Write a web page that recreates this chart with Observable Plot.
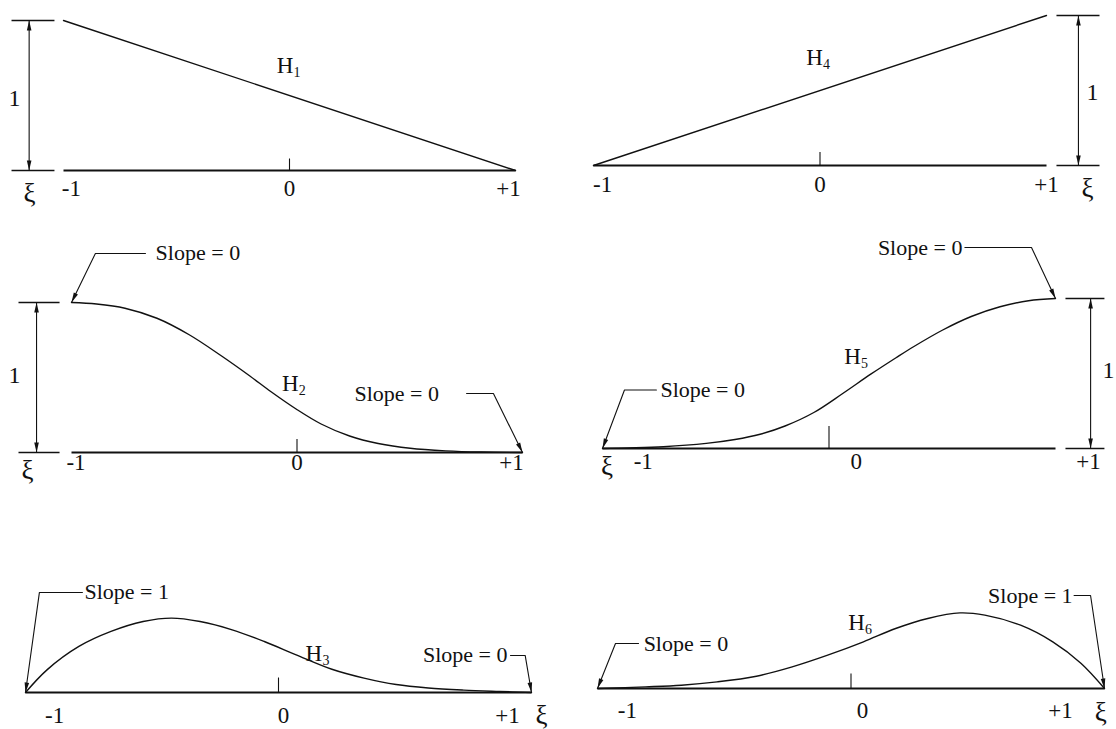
<!DOCTYPE html>
<html>
<head>
<meta charset="utf-8">
<script src="https://cdn.jsdelivr.net/npm/d3@7"></script>
<script src="https://cdn.jsdelivr.net/npm/@observablehq/plot@0.6"></script>
<style>
  html, body { margin: 0; padding: 0; background: #fff; }
  #figure { position: relative; width: 1116px; height: 729px; overflow: hidden; background: #fff; }
  #figure svg { position: absolute; overflow: visible; }
</style>
</head>
<body>
<div id="figure"></div>
<script>
// Hermite shape functions H1..H6 on the natural coordinate xi in [-1, +1]

// H1 and H4: linear functions
const xiLinear = [-1, 1];
const h1 = [1, 0];
const h4 = [0, 1];

// H2: falls from 1 to 0, zero slope at both ends
const xiH2 = [-1, -0.889, -0.763, -0.621, -0.478, -0.336, -0.209, -0.115, -0.004, 0.107, 0.233, 0.360, 0.502, 0.660, 0.818, 1];
const h2   = [1, 0.990, 0.962, 0.895, 0.785, 0.645, 0.510, 0.405, 0.290, 0.190, 0.110, 0.060, 0.028, 0.011, 0.003, 0];

// H5: rises from 0 to 1, zero slope at both ends
const xiH5 = [-1, -0.889, -0.731, -0.542, -0.415, -0.304, -0.194, -0.067, 0.059, 0.186, 0.296, 0.375, 0.502, 0.628, 0.755, 0.881, 1];
const h5   = [0, 0.004, 0.012, 0.034, 0.060, 0.095, 0.150, 0.240, 0.365, 0.497, 0.605, 0.680, 0.790, 0.880, 0.945, 0.985, 1];

// H3: slope 1 at xi = -1, slope 0 at xi = +1
const xiH3 = [-1, -0.915, -0.789, -0.662, -0.535, -0.423, -0.310, -0.183, -0.056, 0.070, 0.211, 0.338, 0.465, 0.592, 0.732, 0.873, 1];
const h3   = [0, 0.151, 0.307, 0.407, 0.473, 0.496, 0.473, 0.418, 0.340, 0.251, 0.155, 0.096, 0.053, 0.030, 0.016, 0.007, 0];

// H6: slope 0 at xi = -1, slope 1 at xi = +1
const xiH6 = [-1, -0.810, -0.669, -0.528, -0.373, -0.232, -0.092, 0.049, 0.176, 0.303, 0.430, 0.528, 0.669, 0.796, 0.908, 1];
const h6   = [0, 0.011, 0.022, 0.044, 0.082, 0.144, 0.222, 0.311, 0.400, 0.467, 0.504, 0.489, 0.422, 0.311, 0.167, 0];

// text
const tickLabels = ["-1", "0", "+1"];
const functionNames = ["1", "2", "3", "4", "5", "6"];
const slopeZero = "Slope = 0";
const slopeOne = "Slope = 1";
const unitLabel = "1";
const axisSymbol = "\u03BE";

const FONT = "'Liberation Serif', 'Times New Roman', Times, serif";
const INK = "#111";

// filled, slender arrowhead; falls back to Plot's built-in arrow
function headMarker(color, context) {
  const ns = "http://www.w3.org/2000/svg";
  const doc = context && context.document ? context.document : document;
  const m = doc.createElementNS(ns, "marker");
  m.setAttribute("viewBox", "-11 -3 12 6");
  m.setAttribute("markerWidth", 12);
  m.setAttribute("markerHeight", 6);
  m.setAttribute("markerUnits", "userSpaceOnUse");
  m.setAttribute("orient", "auto-start-reverse");
  m.setAttribute("refX", 0);
  m.setAttribute("refY", 0);
  const p = doc.createElementNS(ns, "path");
  p.setAttribute("d", "M0,0L-10,-2.3L-10,2.3Z");
  p.setAttribute("fill", color);
  p.setAttribute("stroke", "none");
  m.appendChild(p);
  return m;
}
let HEAD = headMarker;
try { Plot.link([], {x1: 0, y1: 0, x2: 0, y2: 0, markerEnd: headMarker}); } catch (e) { HEAD = "arrow"; }

const series = (xs, ys) => xs.map((x, i) => ({x, y: ys[i]}));

// one panel per shape function; frame gives the page placement of its plot area
const panels = [
  {
    frame: {left: 0, top: 0, width: 558, height: 215, x0: 63, x1: 515, base: 170},
    data: series(xiLinear, h1), name: functionNames[0], nameAt: [-0.02, 0.70],
    tickLen: 0.08, tickAt: [-0.965, 0, 0.969], tickY: -0.12,
    xiAt: [-1.15, -0.15],
    dim: {x: -1.152, ext: [-1.23, -1.04], labelAt: [-1.217, 0.48]},
    leaders: []
  },
  {
    frame: {left: 558, top: 0, width: 558, height: 215, x0: 593, x1: 1046, base: 165},
    data: series(xiLinear, h4), name: functionNames[3], nameAt: [-0.024, 0.72],
    tickLen: 0.09, tickAt: [-0.96, 0, 1.0], tickY: -0.13,
    xiAt: [1.181, -0.155],
    dim: {x: 1.141, ext: [1.044, 1.234], labelAt: [1.203, 0.487]},
    leaders: []
  },
  {
    frame: {left: 0, top: 215, width: 558, height: 275, x0: 71, x1: 522, base: 452},
    data: series(xiH2, h2), name: functionNames[1], nameAt: [-0.03, 0.46],
    tickLen: 0.09, tickAt: [-0.98, 0, 0.951], tickY: -0.07,
    xiAt: [-1.195, -0.12],
    dim: {x: -1.155, ext: [-1.235, -1.053], labelAt: [-1.253, 0.513]},
    leaders: [
      {text: slopeZero, at: [-0.627, 1.327], anchor: "start", path: [[-0.672, 1.327], [-0.894, 1.327], [-1, 1]]},
      {text: slopeZero, at: [0.255, 0.393], anchor: "start", path: [[0.752, 0.393], [0.871, 0.393], [1, 0]]}
    ]
  },
  {
    frame: {left: 558, top: 215, width: 558, height: 275, x0: 602, x1: 1055, base: 448},
    data: series(xiH5, h5), name: functionNames[4], nameAt: [0.104, 0.613],
    tickLen: 0.15, tickAt: [-0.82, 0.12, 1.146], tickY: -0.09,
    xiAt: [-0.98, -0.12],
    dim: {x: 1.155, ext: [1.044, 1.216], labelAt: [1.234, 0.52]},
    leaders: [
      {text: slopeZero, at: [0.589, 1.34], anchor: "end", path: [[0.60, 1.34], [0.894, 1.34], [1, 1]]},
      {text: slopeZero, at: [-0.744, 0.39], anchor: "start", path: [[-0.762, 0.39], [-0.903, 0.39], [-1, 0]]}
    ]
  },
  {
    frame: {left: 0, top: 490, width: 558, height: 239, x0: 25, x1: 531, base: 692},
    data: series(xiH3, h3), name: functionNames[2], nameAt: [0.14, 0.26],
    tickLen: 0.1, tickAt: [-0.885, 0.02, 0.905], tickY: -0.155,
    xiAt: [1.04, -0.15],
    dim: null,
    leaders: [
      {text: slopeOne, at: [-0.767, 0.667], anchor: "start", path: [[-0.775, 0.667], [-0.945, 0.667], [-1, 0]]},
      {text: slopeZero, at: [0.905, 0.247], anchor: "end", path: [[0.917, 0.247], [0.975, 0.247], [1, 0]]}
    ]
  },
  {
    frame: {left: 558, top: 490, width: 558, height: 239, x0: 597, x1: 1104, base: 688},
    data: series(xiH6, h6), name: functionNames[5], nameAt: [0.022, 0.44],
    tickLen: 0.1, tickAt: [-0.882, 0.045, 0.826], tickY: -0.147,
    xiAt: [0.985, -0.16],
    dim: null,
    leaders: [
      {text: slopeZero, at: [-0.818, 0.30], anchor: "start", path: [[-0.838, 0.30], [-0.929, 0.30], [-1, 0]]},
      {text: slopeOne, at: [0.874, 0.62], anchor: "end", path: [[0.88, 0.62], [0.945, 0.62], [1, 0]]}
    ]
  }
];

const UNIT = 150; // pixels per unit of H

function drawPanel(p) {
  const f = p.frame;
  const marks = [];

  // axis line and the tick at xi = 0
  marks.push(Plot.link([{x1: -1, y1: 0, x2: 1, y2: 0}], {x1: "x1", y1: "y1", x2: "x2", y2: "y2", stroke: INK, strokeWidth: 1.9}));
  marks.push(Plot.link([{x1: 0, y1: 0, x2: 0, y2: p.tickLen}], {x1: "x1", y1: "y1", x2: "x2", y2: "y2", stroke: INK, strokeWidth: 1.1}));

  // unit-height dimension
  if (p.dim) {
    const d = p.dim;
    marks.push(Plot.link([0, 1].map(v => ({x1: d.ext[0], x2: d.ext[1], y: v})), {x1: "x1", x2: "x2", y1: "y", y2: "y", stroke: INK, strokeWidth: 1.4}));
    marks.push(Plot.link([{x: d.x, y1: 0, y2: 1}], {x1: "x", x2: "x", y1: "y1", y2: "y2", stroke: INK, strokeWidth: 1.1, markerStart: HEAD, markerEnd: HEAD}));
    marks.push(Plot.text([unitLabel], {x: d.labelAt[0], y: d.labelAt[1], text: d => d, fontSize: 24, fontFamily: FONT, fill: INK, textAnchor: "middle", lineAnchor: "middle"}));
  }

  // the shape function
  marks.push(Plot.line(p.data, {x: "x", y: "y", curve: "catmull-rom", stroke: INK, strokeWidth: 1.4}));

  // slope call-outs
  for (const l of p.leaders) {
    marks.push(Plot.line(l.path.map(([x, y]) => ({x, y})), {x: "x", y: "y", stroke: INK, strokeWidth: 1.1, markerEnd: HEAD}));
    marks.push(Plot.text([l.text], {x: l.at[0], y: l.at[1], text: d => d, fontSize: 22, fontFamily: FONT, fill: INK, textAnchor: l.anchor, lineAnchor: "middle"}));
  }

  // tick labels and the xi symbol
  marks.push(Plot.text(tickLabels, {x: (d, i) => p.tickAt[i], y: p.tickY, text: d => d, fontSize: 23, fontFamily: FONT, fill: INK, textAnchor: "middle", lineAnchor: "middle"}));
  marks.push(Plot.text([axisSymbol], {x: p.xiAt[0], y: p.xiAt[1], text: d => d, fontSize: 27, fontFamily: FONT, fill: INK, textAnchor: "middle", lineAnchor: "middle"}));

  // function name with subscript
  marks.push(Plot.text(["H"], {x: p.nameAt[0], y: p.nameAt[1], text: d => d, fontSize: 23, fontFamily: FONT, fill: INK, textAnchor: "middle", lineAnchor: "middle"}));
  marks.push(Plot.text([p.name], {x: p.nameAt[0], y: p.nameAt[1], text: d => d, dx: 12, dy: 7, fontSize: 14, fontFamily: FONT, fill: INK, textAnchor: "middle", lineAnchor: "middle"}));

  const svg = Plot.plot({
    width: f.width,
    height: f.height,
    marginLeft: f.x0 - f.left,
    marginRight: f.left + f.width - f.x1,
    marginTop: (f.base - UNIT) - f.top,
    marginBottom: f.top + f.height - f.base,
    x: {domain: [-1, 1], axis: null},
    y: {domain: [0, 1], axis: null},
    style: {background: "transparent", overflow: "visible", fontFamily: FONT},
    marks
  });
  svg.style.left = f.left + "px";
  svg.style.top = f.top + "px";
  return svg;
}

const fig = document.getElementById("figure");
for (const p of panels) fig.appendChild(drawPanel(p));
</script>
</body>
</html>
